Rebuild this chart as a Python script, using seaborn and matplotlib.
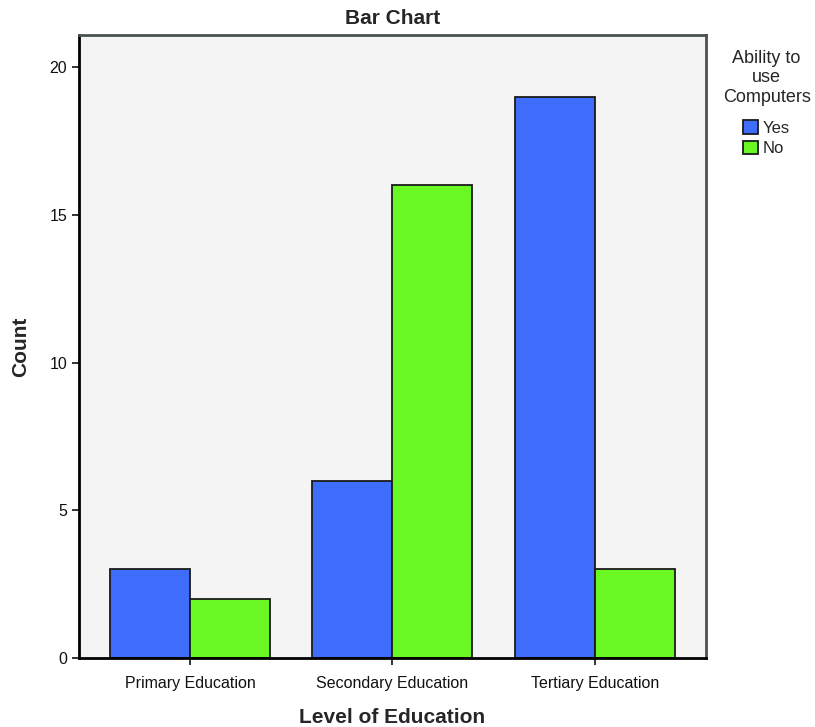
import pandas as pd
import matplotlib.pyplot as plt
import seaborn as sns

levels = ["Primary Education", "Secondary Education", "Tertiary Education"]
yes_counts = [3, 6, 19]
no_counts = [2, 16, 3]
groups = ["Yes", "No"]

df = pd.DataFrame({
    "Level of Education": levels * 2,
    "Ability": ["Yes"] * 3 + ["No"] * 3,
    "Count": yes_counts + no_counts,
})

sns.set_style("white")
plt.rcParams['font.family'] = ['Liberation Sans', 'DejaVu Sans']

fig = plt.figure(figsize=(8.15, 7.27), dpi=100)
ax = fig.add_axes([0.097, 0.095, 0.769, 0.857])
ax.set_facecolor("#f3f4f3")

sns.barplot(data=df, x="Level of Education", y="Count", hue="Ability",
            hue_order=groups, palette=["#3d6dfa", "#6af825"],
            width=0.79, gap=0, edgecolor="#1a1a1a", linewidth=1.3,
            saturation=1, ax=ax)

ax.set_xlim(-0.548, 2.548)
ax.set_ylim(0, 21.1)
ax.set_yticks([0, 5, 10, 15, 20])
ax.tick_params(axis="both", direction="out", length=5, width=1.2,
               labelsize=11.5, colors="#111111", bottom=True, left=True)
ax.tick_params(axis="x", pad=8)

for side in ["left", "bottom"]:
    ax.spines[side].set_color("black")
    ax.spines[side].set_linewidth(2)
for side in ["top", "right"]:
    ax.spines[side].set_color("#4a5250")
    ax.spines[side].set_linewidth(2)

ax.set_title("Bar Chart", fontsize=15, fontweight="bold", pad=8)
ax.set_xlabel("Level of Education", fontsize=15, fontweight="bold", labelpad=12)
ax.set_ylabel("Count", fontsize=15, fontweight="bold", labelpad=14)

leg = ax.legend(title="Ability to\nuse\nComputers", loc="upper left",
                bbox_to_anchor=(1.003, 1.0), frameon=False, fontsize=12,
                title_fontsize=13, handlelength=0.9, handleheight=0.9,
                handletextpad=0.3, labelspacing=0.3)
leg.get_title().set_multialignment("center")
leg._legend_box.sep = 10
for h in leg.legend_handles:
    h.set_edgecolor("#1a1a1a")

fig.savefig("out.png", dpi=100)
